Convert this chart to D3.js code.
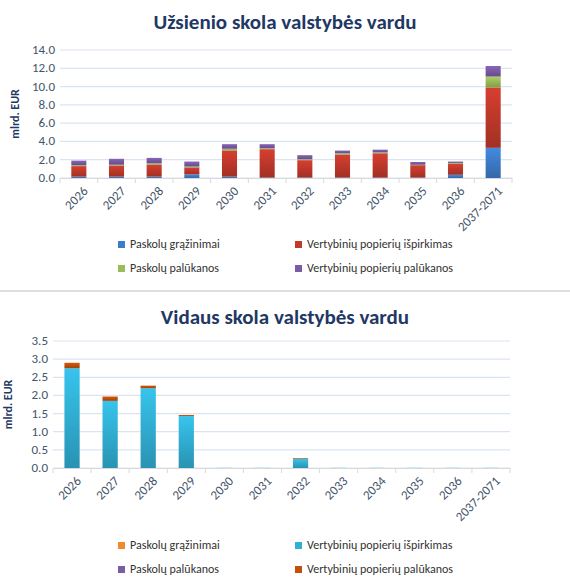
<!DOCTYPE html><html><head><meta charset="utf-8"><script src="https://cdn.jsdelivr.net/npm/d3@7"></script>
<style>body{margin:0;background:#fff}text{font-family:Calibri,Carlito,"Liberation Sans",Arial,sans-serif}</style></head><body><svg id="c" width="570" height="579"></svg><script>
const categories=["2026","2027","2028","2029","2030","2031","2032","2033","2034","2035","2036","2037-2071"];
const topNames=["Paskolų grąžinimai","Vertybinių popierių išpirkimas","Paskolų palūkanos","Vertybinių popierių palūkanos"];
const topLoanRepay=[0.15,0.15,0.15,0.4,0.15,0.05,0.05,0.05,0.05,0.05,0.35,3.3];
const topBondRedeem=[1.15,1.2,1.3,0.75,2.85,3.1,1.9,2.5,2.65,1.35,1.2,6.6];
const topLoanInt=[0.1,0.1,0.15,0.1,0.2,0.1,0.1,0.15,0.1,0.05,0.1,1.2];
const topBondInt=[0.5,0.65,0.6,0.55,0.5,0.45,0.45,0.3,0.3,0.3,0.15,1.15];
const topTicks=[0,2,4,6,8,10,12,14];
const botLoanRepay=[0,0,0,0,0,0,0,0,0,0,0,0];
const botBondRedeem=[2.75,1.85,2.2,1.43,0.005,0.005,0.25,0.005,0.005,0.005,0.005,0.005];
const botLoanInt=[0,0,0,0,0,0,0,0,0,0,0,0];
const botBondInt=[0.15,0.12,0.07,0.03,0,0,0.02,0,0,0,0,0];
const botTicks=[0,0.5,1,1.5,2,2.5,3,3.5];
const topColors=["#3d7cc9","#c0392b","#9bbb59","#7b5aa6"];
const botColors=["#f08a2c","#31b0d5","#7b5aa6","#c0500a"];
const svg=d3.select("#c"),defs=svg.append("defs");
function grad(id,c){const g=defs.append("linearGradient").attr("id",id).attr("x1",0).attr("x2",0).attr("y1",0).attr("y2",1);
g.append("stop").attr("offset","0%").attr("stop-color",d3.color(c).brighter(0.3));g.append("stop").attr("offset","100%").attr("stop-color",d3.color(c).darker(0.5));}
function chart(o){
const g=svg.append("g");
g.append("text").attr("x",285).attr("y",o.titleY).attr("text-anchor","middle").attr("font-size",21).attr("font-weight","bold").attr("fill","#1f3864").text(o.title);
const x=d3.scaleBand().domain(categories).range([o.x0,o.x1]).paddingInner(0.6).paddingOuter(0.3);
const y=d3.scaleLinear().domain([0,o.max]).range([o.y0,o.y1]);
o.ticks.forEach(t=>{g.append("line").attr("x1",o.x0).attr("x2",o.x1).attr("y1",y(t)).attr("y2",y(t)).attr("stroke","#dbe5f1").attr("stroke-width",1.2);
g.append("text").attr("x",o.x0-5).attr("y",y(t)+4).attr("text-anchor","end").attr("font-size",13).attr("fill","#44546a").text(t.toFixed(1));});
g.append("text").attr("transform",`translate(${o.x0-41},${(o.y0+o.y1)/2}) rotate(-90)`).attr("text-anchor","middle").attr("font-size",12).attr("font-weight","bold").attr("fill","#1f3864").text("mlrd. EUR");
const rows=categories.map((c,i)=>({c,s0:o.series[0][i],s1:o.series[1][i],s2:o.series[2][i],s3:o.series[3][i]}));
const st=d3.stack().keys(["s0","s1","s2","s3"])(rows);
st.forEach((layer,k)=>{const id=o.pre+k;grad(id,o.colors[k]);
g.selectAll(null).data(layer).join("rect").attr("x",d=>x(d.data.c)).attr("width",x.bandwidth()).attr("y",d=>y(d[1])).attr("height",d=>Math.max(0,y(d[0])-y(d[1]))).attr("fill",`url(#${id})`);});
const ax=g.append("g").attr("transform",`translate(0,${o.y0})`).call(d3.axisBottom(x).tickSize(0).tickSizeOuter(0));
ax.select(".domain").attr("stroke","#d9d9d9");
ax.selectAll(".tick").each(function(d,i){d3.select(this).append("line").attr("x1",-x.step()/2).attr("x2",-x.step()/2).attr("y2",5).attr("stroke","#d9d9d9");});
ax.append("line").attr("x1",o.x1).attr("x2",o.x1).attr("y2",5).attr("stroke","#d9d9d9");
ax.selectAll("text").attr("font-size",13).attr("fill","#44546a").attr("text-anchor","end").attr("dy","0.3em").attr("transform","translate(5,9) rotate(-45)").style("font-family","Calibri,Carlito,'Liberation Sans',Arial,sans-serif");
const lp=[[118,o.legY],[295,o.legY],[118,o.legY+24],[295,o.legY+24]];
o.names.forEach((n,k)=>{g.append("rect").attr("x",lp[k][0]).attr("y",lp[k][1]-7).attr("width",7).attr("height",7).attr("fill",o.colors[k]);
g.append("text").attr("x",lp[k][0]+12).attr("y",lp[k][1]).attr("font-size",12).attr("fill","#333").text(n);});
}
chart({title:"Užsienio skola valstybės vardu",titleY:29,x0:60,x1:512,y0:178,y1:50,max:14,ticks:topTicks,series:[topLoanRepay,topBondRedeem,topLoanInt,topBondInt],colors:topColors,names:topNames,legY:248,pre:"t"});
svg.append("line").attr("x1",0).attr("x2",570).attr("y1",291).attr("y2",291).attr("stroke","#bfbfbf");
chart({title:"Vidaus skola valstybės vardu",titleY:324,x0:53,x1:510,y0:468,y1:341,max:3.5,ticks:botTicks,series:[botLoanRepay,botBondRedeem,botLoanInt,botBondInt],colors:botColors,names:topNames,legY:549,pre:"b"});
</script></body></html>
